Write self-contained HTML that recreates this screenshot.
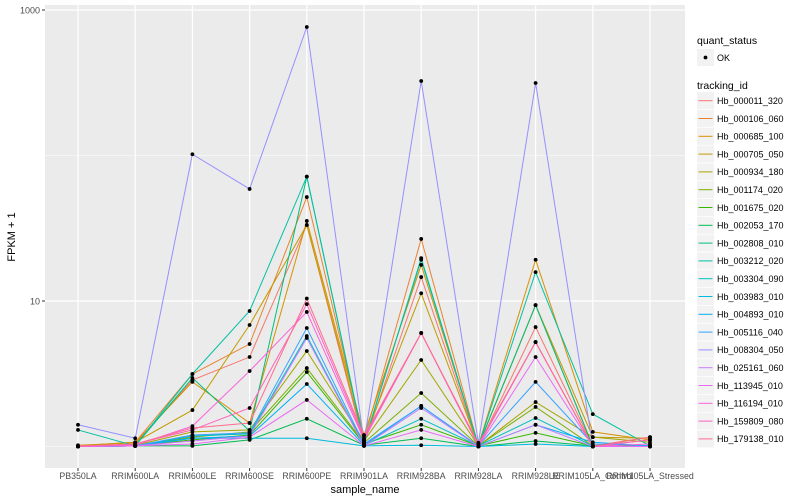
<!DOCTYPE html>
<html><head><meta charset="utf-8"><style>body{margin:0;background:#fff}svg{display:block;font-family:"Liberation Sans",Arial,sans-serif}</style></head>
<body>
<svg id="chart" width="800" height="500" viewBox="0 0 800 500">
<rect x="45" y="5" width="640" height="463" fill="#ebebeb"/>
<g id="grid"></g><g id="series"></g><g id="axes"></g><g id="legend"></g>
<text x="365" y="493" text-anchor="middle" font-size="11" fill="#000">sample_name</text>
<text x="15" y="237" text-anchor="middle" font-size="11" fill="#000" transform="rotate(-90 15 237)">FPKM + 1</text>
</svg>
<script>
const categories = ["PB350LA","RRIM600LA","RRIM600LE","RRIM600SE","RRIM600PE","RRIM901LA","RRIM928BA","RRIM928LA","RRIM928LE","RRIM105LA_Control","RRIM105LA_Stressed"];
const seriesNames = ["Hb_000011_320","Hb_000106_060","Hb_000685_100","Hb_000705_050","Hb_000934_180","Hb_001174_020","Hb_001675_020","Hb_002053_170","Hb_002808_010","Hb_003212_020","Hb_003304_090","Hb_003983_010","Hb_004893_010","Hb_005116_040","Hb_008304_050","Hb_025161_060","Hb_113945_010","Hb_116194_010","Hb_159809_080","Hb_179138_010"];
const seriesColors = ["#F8766D","#EA8331","#D89000","#C09B00","#A3A500","#7CAE00","#39B600","#00BB4E","#00BF7D","#00C1A3","#00BFC4","#00BAE0","#00B0F6","#35A2FF","#9590FF","#C77CFF","#E76BF3","#FA62DB","#FF62BC","#FF6C91"];
const s0 = [1.00,1.04,2.86,4.12,33.3,1.04,14.6,1.00,6.62,1.01,1.16];
const s1 = [1.01,1.07,3.15,5.06,51.8,1.11,26.7,1.01,9.37,1.01,1.11];
const s2 = [1.02,1.06,2.78,1.45,35.5,1.20,17.7,1.02,19.2,1.26,1.11];
const s3 = [1.01,1.07,1.78,6.84,33.3,1.11,11.3,1.01,9.37,1.16,1.14];
const s4 = [1.00,1.02,1.26,1.30,4.53,1.09,3.93,1.01,2.02,1.16,1.07];
const s5 = [1.00,1.01,1.16,1.26,3.46,1.06,2.33,1.01,1.87,1.01,1.01];
const s6 = [1.00,1.01,1.11,1.20,3.25,1.04,1.41,1.01,1.24,1.01,1.01];
const s7 = [1.00,1.01,1.01,1.11,1.55,1.02,1.14,1.00,1.09,1.01,1.01];
const s8 = [1.00,1.01,2.96,1.28,71.6,1.04,19.7,1.01,9.37,1.00,1.00];
const s9 = [1.30,1.01,3.15,8.54,71.6,1.06,19.2,1.01,15.8,1.67,1.01];
const s10 = [1.00,1.01,1.18,1.22,5.75,1.02,1.55,1.01,1.57,1.01,1.00];
const s11 = [1.00,1.01,1.14,1.14,1.14,1.01,1.02,1.00,1.04,1.00,1.00];
const s12 = [1.00,1.01,1.14,1.18,2.69,1.02,1.90,1.00,1.41,1.07,1.01];
const s13 = [1.00,1.01,1.20,1.24,6.52,1.04,1.90,1.01,2.78,1.04,1.01];
const s14 = [1.41,1.14,102,58.9,764,1.07,325,1.06,315,1.00,1.00];
const s15 = [1.00,1.01,1.09,1.18,5.57,1.01,1.84,1.00,1.41,1.00,1.00];
const s16 = [1.00,1.01,1.04,1.16,2.09,1.01,1.30,1.00,4.12,1.00,1.00];
const s17 = [1.01,1.02,1.38,3.30,8.41,1.11,6.03,1.01,5.22,1.00,1.04];
const s18 = [1.00,1.04,1.30,1.84,9.52,1.14,6.03,1.02,5.22,1.00,1.11];
const s19 = [1.01,1.04,1.34,1.45,10.4,1.18,6.03,1.04,5.22,1.00,1.16];
const seriesValues = [s0,s1,s2,s3,s4,s5,s6,s7,s8,s9,s10,s11,s12,s13,s14,s15,s16,s17,s18,s19];
const yMajorTicks = [10,1000];
const yMajorLabels = ["10","1000"];
const yMinorTicks = [1,100];

const NS="http://www.w3.org/2000/svg";
function xScale(i){return 78+i*57.2;}
function yScale(v){return 446.5-145.5*Math.log10(v);}
function mk(tag,attrs,parent){const e=document.createElementNS(NS,tag);for(const k in attrs)e.setAttribute(k,attrs[k]);parent.appendChild(e);return e;}
const grid=document.getElementById('grid'),axes=document.getElementById('axes'),ser=document.getElementById('series'),leg=document.getElementById('legend');
yMinorTicks.forEach(v=>{const l=mk('line',{x1:45,x2:685,y1:yScale(v),y2:yScale(v),stroke:'#fff','stroke-width':0.6},grid);

});
yMajorTicks.forEach((v,i)=>{const y=yScale(v);
const l=mk('line',{x1:45,x2:685,y1:y,y2:y,stroke:'#fff','stroke-width':1.2},grid);


const t=mk('line',{x1:42,x2:45,y1:y,y2:y,stroke:'#333','stroke-width':1},axes);


const tx=mk('text',{x:40,y:y+3.5,'text-anchor':'end','font-size':9,fill:'#4d4d4d'},axes);tx.textContent=yMajorLabels[i];

});
categories.forEach((c,i)=>{const x=xScale(i);
const l=mk('line',{x1:x,x2:x,y1:5,y2:468,stroke:'#fff','stroke-width':1.2},grid);


const t=mk('line',{x1:x,x2:x,y1:468,y2:471,stroke:'#333','stroke-width':1},axes);


const tx=mk('text',{x:x,y:479,'text-anchor':'middle','font-size':8.8,fill:'#4d4d4d'},axes);tx.textContent=c;

});
seriesValues.forEach((vals,si)=>{const pts=vals.map((v,i)=>xScale(i)+','+yScale(v)).join(' ');
const p=mk('polyline',{points:pts,fill:'none',stroke:seriesColors[si],'stroke-width':1},ser);

});
seriesValues.forEach((vals,si)=>{vals.forEach((v,i)=>{const c=mk('circle',{cx:xScale(i),cy:yScale(v),r:1.9,fill:'#000'},ser);

});});
let t=mk('text',{x:697,y:44,'font-size':10.5,fill:'#000'},leg);t.textContent='quant_status';


let b=mk('rect',{x:697,y:49,width:17,height:17,fill:'#f2f2f2'},leg);


let d=mk('circle',{cx:705.5,cy:57.5,r:1.9,fill:'#000'},leg);


t=mk('text',{x:717,y:61,'font-size':9,fill:'#000'},leg);t.textContent='OK';


t=mk('text',{x:697,y:89,'font-size':10.5,fill:'#000'},leg);t.textContent='tracking_id';


seriesNames.forEach((n,i)=>{const cy=100.7+i*17.8;
const r=mk('rect',{x:697,y:cy-8.5,width:17,height:17,fill:'#f2f2f2'},leg);


const l=mk('line',{x1:698.5,x2:712.5,y1:cy,y2:cy,stroke:seriesColors[i],'stroke-width':1},leg);


const tx=mk('text',{x:717,y:cy+3.3,'font-size':9,fill:'#000'},leg);tx.textContent=n;

});
</script>
</body></html>
